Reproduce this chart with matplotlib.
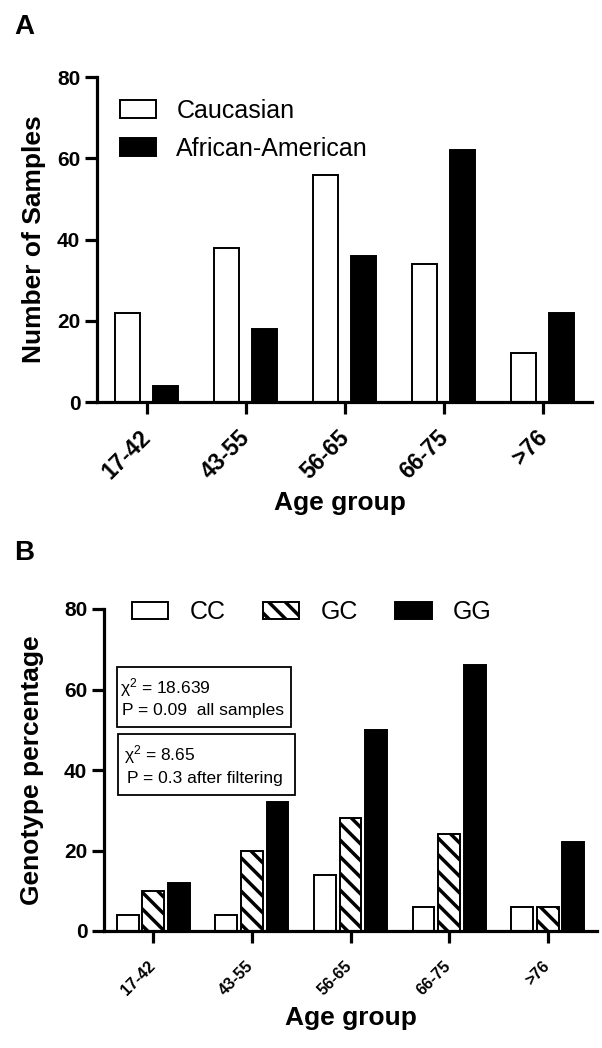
import matplotlib
matplotlib.use("Agg")
import matplotlib.pyplot as plt
import matplotlib.transforms as mtrans
import numpy as np
from matplotlib.patches import Rectangle

plt.rcParams['font.family'] = ['Liberation Sans', 'DejaVu Sans']
plt.rcParams['hatch.linewidth'] = 2.5
plt.rcParams['mathtext.fontset'] = 'custom'
plt.rcParams['mathtext.rm'] = 'Liberation Sans'
plt.rcParams['mathtext.it'] = 'Liberation Sans:italic'

# ---------------- data ----------------
age_groups = ["17-42", "43-55", "56-65", "66-75", ">76"]
caucasian = [22, 38, 56, 34, 12]
african_american = [4, 18, 36, 62, 22]

cc = [4, 4, 14, 6, 6]
gc = [10, 20, 28, 24, 6]
gg = [12, 32, 50, 66, 22]

yticks = [0, 20, 40, 60, 80]

W, H = 602, 1048
fig = plt.figure(figsize=(W / 100, H / 100), dpi=100)

def style_axes(ax):
    for s in ['top', 'right']:
        ax.spines[s].set_visible(False)
    for s in ['left', 'bottom']:
        ax.spines[s].set_linewidth(2.3)
    ax.tick_params(axis='both', width=2.3, length=8.5, direction='out')
    ax.set_ylim(0, 80)
    ax.set_xlim(-0.5, 4.5)
    ax.set_yticks(yticks)
    ax.spines['left'].set_bounds(0, 80)
    for lab in ax.get_yticklabels():
        lab.set_fontweight('bold')
        lab.set_fontsize(15)

def shift_labels(ax, dx_px):
    off = mtrans.ScaledTranslation(dx_px / 100, 0, fig.dpi_scale_trans)
    for lab in ax.get_xticklabels():
        lab.set_transform(lab.get_transform() + off)

x = np.arange(len(age_groups))

# ---------------- Panel A ----------------
axA = fig.add_axes([97 / W, 1 - 402 / H, (592 - 97) / W, (402 - 77) / H])
wA = 0.25
axA.bar(x - 0.19, caucasian, wA, color='white', edgecolor='black', linewidth=1.4, label='Caucasian')
axA.bar(x + 0.19, african_american, wA, color='black', edgecolor='black', linewidth=1.4, label='African-American')
style_axes(axA)
axA.set_xticks(x)
axA.set_xticklabels(age_groups, rotation=45, ha='right', va='top', rotation_mode='anchor',
                    fontsize=16.5, fontweight='bold')
axA.tick_params(axis='x', pad=8.5)
shift_labels(axA, -7)
axA.set_ylabel('Number of Samples', fontsize=19, fontweight='bold')
axA.set_xlabel('Age group', fontsize=19, fontweight='bold')
axA.yaxis.set_label_coords((46 - 97) / 495, 0.5)
axA.xaxis.set_label_coords(0.49, (402 - 491) / 325)
axA.legend(loc='center left', bbox_to_anchor=((120 - 97) / 495, (402 - 130) / 325),
           frameon=False, fontsize=18, handlelength=1.45, handleheight=0.72,
           handletextpad=0.8, labelspacing=0.55, borderpad=0, borderaxespad=0)

# ---------------- Panel B ----------------
axB = fig.add_axes([104 / W, 1 - 931 / H, (597 - 104) / W, (931 - 609) / H])
wB = 0.22
axB.bar(x - 0.26, cc, wB, color='white', edgecolor='black', linewidth=1.4, label='CC')
axB.bar(x, gc, wB, color='white', edgecolor='black', linewidth=1.4, hatch='\\\\', label='GC')
axB.bar(x + 0.26, gg, wB, color='black', edgecolor='black', linewidth=1.4, label='GG')
style_axes(axB)
axB.set_xticks(x)
axB.set_xticklabels(age_groups, rotation=45, ha='right', va='top', rotation_mode='anchor',
                    fontsize=11.5, fontweight='bold')
axB.tick_params(axis='x', pad=11)
shift_labels(axB, -6)
axB.set_ylabel('Genotype percentage', fontsize=19, fontweight='bold')
axB.set_xlabel('Age group', fontsize=19, fontweight='bold')
axB.yaxis.set_label_coords((44 - 104) / 493, 0.5)
axB.xaxis.set_label_coords(0.5, (931 - 1006) / 322)
axB.legend(loc='center left', bbox_to_anchor=((132 - 104) / 493, (931 - 612) / 322),
           ncol=3, frameon=False, fontsize=18, handlelength=1.45, handleheight=0.7,
           handletextpad=0.85, columnspacing=1.5, borderpad=0, borderaxespad=0)

# stats boxes
def box(x0, y0, x1, y1):
    r = Rectangle((x0 / W, 1 - y1 / H), (x1 - x0) / W, (y1 - y0) / H,
                  transform=fig.transFigure, fill=False, edgecolor='black', linewidth=1.3)
    fig.patches.append(r)

box(117, 667, 291, 727)
box(118, 734, 295, 795)
fig.text(120 / W, 1 - 688 / H, 'χ$^2$ = 18.639', fontsize=12.5, va='center', ha='left')
fig.text(122 / W, 1 - 711 / H, 'P = 0.09  all samples', fontsize=12.5, va='center', ha='left')
fig.text(124 / W, 1 - 755 / H, 'χ$^2$ = 8.65', fontsize=12.5, va='center', ha='left')
fig.text(127 / W, 1 - 778 / H, 'P = 0.3 after filtering', fontsize=12.5, va='center', ha='left')

# panel letters
fig.text(14 / W, 1 - 27 / H, 'A', fontsize=20, fontweight='bold', va='center', ha='left')
fig.text(14 / W, 1 - 553 / H, 'B', fontsize=20, fontweight='bold', va='center', ha='left')

fig.savefig('out.png', dpi=100)
